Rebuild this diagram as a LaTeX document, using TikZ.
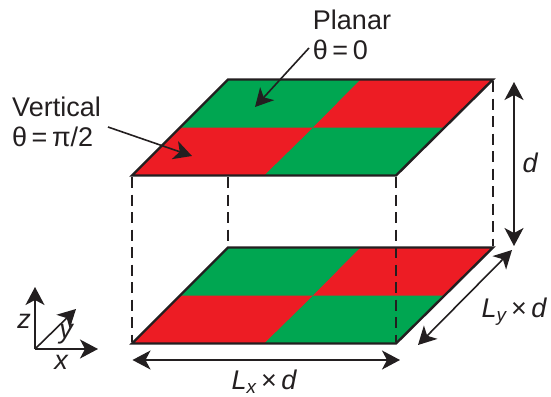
\documentclass[tikz,border=0pt]{standalone}
\usepackage{fontspec}
\setmainfont{Liberation Sans}
\usetikzlibrary{arrows.meta}
\definecolor{plgreen}{RGB}{0,166,81}
\definecolor{plred}{RGB}{237,28,36}
\definecolor{ink}{RGB}{35,31,32}
\tikzset{
  x=1pt,y=-1pt,
  edge/.style={draw=ink,line width=2.4pt,line join=miter},
  dashline/.style={draw=ink,line width=1.4pt,dash pattern=on 11pt off 6.5pt},
  tip/.style={-{Stealth[length=18pt,width=19pt,inset=5pt]}},
  dbl/.style={{Stealth[length=18pt,width=19pt,inset=5pt]}-{Stealth[length=18pt,width=19pt,inset=5pt]}},
  conn/.style={draw=ink,line width=1.6pt},
  lab/.style={text=ink,font=\fontsize{27}{30}\selectfont,inner sep=0pt,align=left},
  ital/.style={lab,align=center,font=\fontsize{27}{31}\selectfont\itshape},
}
\newcommand{\plate}[2]{%
  \begin{scope}[yshift=-#1pt]
    \coordinate (#2a) at (132,175.5); \coordinate (#2b) at (396,175.5);
    \coordinate (#2c) at (493,79.5);  \coordinate (#2d) at (228,79.5);
    \coordinate (#2m) at (313,127.5);
    \fill[plgreen] (#2a) -- (#2b) -- (#2c) -- (#2d) -- cycle;
    \fill[plred] (180,127.5) -- (#2m) -- (264,175.5) -- (#2a) -- cycle;
    \fill[plred] (#2m) -- (445,127.5) -- (#2c) -- (360.5,79.5) -- cycle;
    \draw[edge] (#2a) -- (#2b) -- (#2c) -- (#2d) -- cycle;
  \end{scope}}
\begin{document}
\begin{tikzpicture}
\useasboundingbox (0,0) rectangle (551,396);
\plate{168}{B}
\draw[dashline] (132,177) -- (132,342);
\draw[dashline] (228,177) -- (228,246);
\draw[dashline] (396,177) -- (396,342);
\draw[dashline] (493,81) -- (493,246);
\plate{0}{T}
\node[lab] (planar) at (352,35) {Planar\\θ\,=\,0};
\node[lab] (vertical) at (56.5,122) {Vertical\\θ\,=\,π/2};
\coordinate (pa) at (309,48); \coordinate (pb) at (255,107);
\coordinate (va) at (108,127); \coordinate (vb) at (192,156);
\draw[conn,tip] (pa) -- (pb);
\draw[conn,tip] (va) -- (vb);
\coordinate (d1) at (514,82); \coordinate (d2) at (514,246);
\draw[conn,dbl] (d1) -- (d2);
\node[ital] (dl) at (530,163) {d};
\coordinate (ly1) at (512,250); \coordinate (ly2) at (418,345);
\draw[conn,dbl] (ly1) -- (ly2);
\node[ital] (lyl) at (514,312) {L\textsubscript{y}\,\textup{×}\,d};
\coordinate (lx1) at (132.5,360); \coordinate (lx2) at (400,360);
\draw[conn,dbl] (lx1) -- (lx2);
\node[ital] (lxl) at (264,381.5) {L\textsubscript{x}\,\textup{×}\,d};
\coordinate (o) at (35,349);
\coordinate (zt) at (35,287); \coordinate (yt) at (76,309); \coordinate (xt) at (98,349);
\draw[conn,tip] (o) -- (zt);
\draw[conn,tip] (o) -- (yt);
\draw[conn,tip] (o) -- (xt);
\node[ital] (zl) at (24,321) {z};
\node[ital] (yl) at (66,334) {y};
\node[ital] (xl) at (61,362) {x};
\end{tikzpicture}
\end{document}
